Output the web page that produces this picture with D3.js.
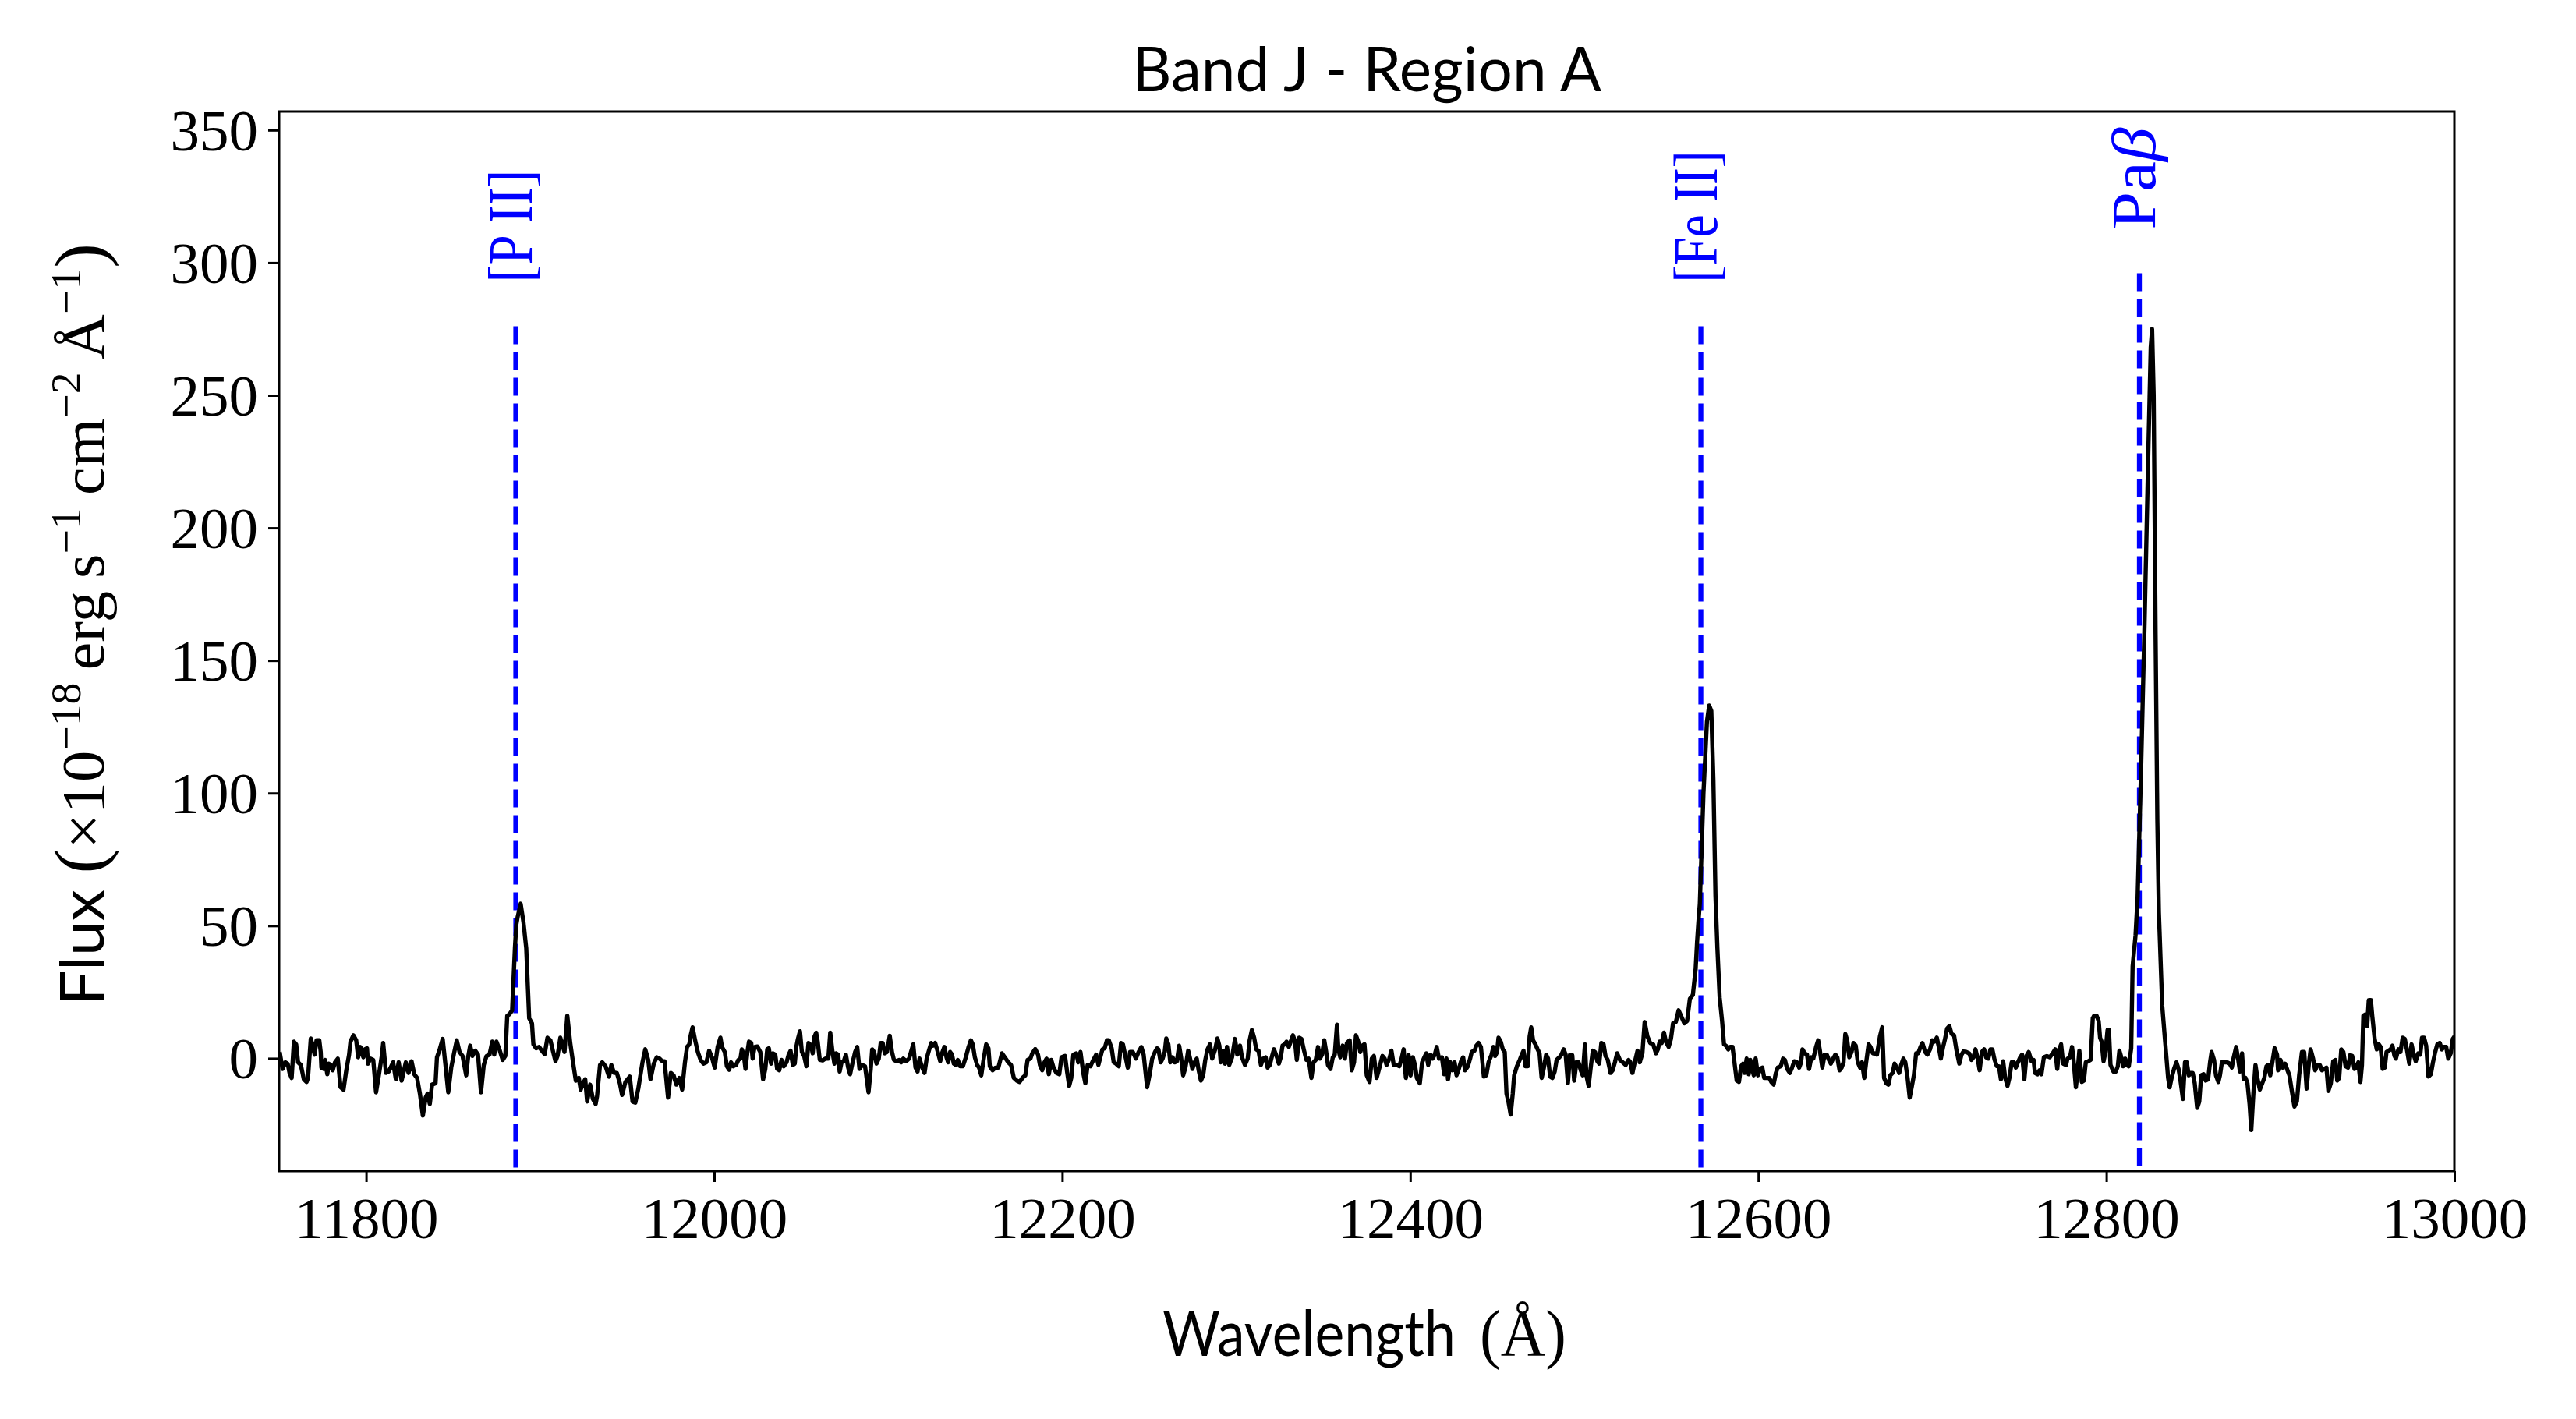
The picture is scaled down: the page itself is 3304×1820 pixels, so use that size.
<!DOCTYPE html>
<html>
<head>
<meta charset="utf-8">
<script src="https://cdn.jsdelivr.net/npm/d3@7"></script>
<style>
  html, body { margin: 0; padding: 0; background: #fff; }
  svg { display: block; }
</style>
</head>
<body>
<svg id="chart" width="3304" height="1820"></svg>
<script>
// ---------------- DATA ----------------
const wavelength = [
  11750.3,11752.0,11753.6,11754.9,11756.0,11757.2,11758.5,11759.8,11760.9,11762.5,
  11764.2,11765.8,11766.6,11768.2,11769.5,11770.4,11771.5,11773.1,11773.9,11774.3,
  11775.6,11776.4,11777.7,11778.5,11779.6,11780.8,11782.1,11783.7,11785.3,11787.0,
  11788.6,11790.2,11791.0,11792.7,11794.3,11795.4,11796.7,11798.4,11799.2,11800.5,
  11801.1,11802.4,11804.1,11805.7,11807.3,11809.0,11809.8,11811.4,11813.0,11815.5,
  11817.1,11818.7,11820.4,11822.8,11824.4,11826.1,11827.7,11829.3,11830.9,11832.6,
  11834.2,11835.3,11836.6,11837.9,11839.9,11840.7,11842.3,11844.0,11845.6,11847.2,
  11848.9,11850.5,11852.1,11853.7,11855.4,11857.5,11858.6,11859.8,11861.1,11862.7,
  11864.3,11866.0,11867.6,11869.2,11870.9,11872.5,11873.6,11874.9,11876.6,11878.5,
  11880.0,11881.1,11882.3,11883.9,11885.5,11886.3,11887.1,11888.8,11890.4,11892.0,
  11893.7,11895.3,11896.1,11897.7,11899.4,11901.0,11902.6,11904.2,11905.9,11907.5,
  11908.8,11910.0,11911.6,11912.7,11914.0,11915.6,11917.3,11918.9,11920.5,11922.2,
  11923.3,11924.6,11925.9,11927.0,11928.7,11930.3,11931.9,11932.7,11934.4,11935.7,
  11937.6,11939.6,11940.9,11942.5,11944.1,11945.8,11947.1,11949.0,11951.5,11953.1,
  11954.7,11956.4,11958.8,11960.4,11962.1,11963.4,11965.3,11967.0,11968.6,11970.2,
  11971.5,11972.7,11973.5,11975.1,11976.7,11978.3,11980.0,11981.6,11983.2,11984.4,
  11985.7,11986.5,11987.6,11988.9,11990.6,11992.2,11993.8,11995.5,11997.1,11998.7,
  12000.3,12002.0,12003.6,
  12004.5,12006.1,12007.3,12008.6,12009.7,12011.0,12012.6,12013.9,12015.1,12015.9,
  12017.0,12018.0,12019.1,12020.0,12021.3,12022.1,12023.2,12024.8,12026.5,12028.1,
  12029.4,12030.5,12031.4,12032.7,12033.8,12035.1,12036.2,12037.4,12038.7,12040.0,
  12041.6,12042.8,12043.9,12045.2,12046.3,12047.2,12048.1,12049.3,12050.4,12051.7,
  12053.0,12054.2,12055.8,12056.6,12057.4,12058.6,12059.5,12060.7,12062.3,12063.9,
  12065.6,12066.7,12068.0,12069.1,12070.1,12071.3,12072.1,12073.2,12074.5,12075.7,
  12077.0,12078.1,12079.4,12081.0,12082.2,12083.5,12085.1,12086.7,12088.7,12090.0,
  12090.8,12091.9,12093.3,12094.6,12095.7,12096.8,12098.1,12099.3,12100.9,12102.2,
  12103.3,12104.7,12106.3,12107.4,12108.7,12110.4,12112.0,12113.1,12114.4,12115.7,
  12116.9,12118.0,12119.3,12120.9,12122.1,12123.4,12124.7,12125.8,12127.0,12128.3,
  12129.9,12131.2,12132.3,12133.5,12134.5,12135.6,12136.7,12137.7,12138.9,12140.0,
  12141.3,12142.9,12144.6,12146.2,12147.5,12148.6,12149.8,12151.1,12152.2,12153.5,
  12154.8,12156.3,12157.6,12158.4,12160.0,12161.7,12163.3,12165.4,12167.0,12169.0,
  12170.6,12172.2,12173.9,12175.5,12177.1,12178.8,12180.1,12181.7,12182.8,12184.5,
  12186.1,12187.2,12188.5,12189.8,12191.0,12192.3,12193.7,12195.0,12196.7,12198.3,
  12199.6,12201.6,12202.9,12204.0,12205.2,12206.4,12208.1,12209.2,12210.5,12212.1,
  12213.3,12214.6,12216.2,12217.9,12219.5,12220.8,12221.9,12223.1,12224.4,12225.7,
  12226.8,12228.4,12229.6,12230.9,12232.5,12233.8,12234.9,12236.6,12237.7,12239.0,
  12240.6,12242.3,12243.9,12245.5,12246.8,12248.8,12250.4,12251.7,12253.3,12254.5,
  12255.3,12256.6,12257.7,12258.9,12259.8,12261.0,12262.1,12263.4,12264.7,12265.9,
  12267.2,12268.3,12269.5,12270.8,12272.4,12274.0,12274.8,12276.1,12277.3,12278.4,
  12279.7,12281.0,12282.2,12283.5,12284.9,12286.2,12287.9,12289.2,12290.3,12291.1,
  12292.4,12293.6,12294.7,12296.0,12297.6,12299.3,12300.6,12302.2,12303.3,12305.0,
  12306.6,12307.7,12309.0,12310.3,12311.5,12312.8,12314.2,12315.5,12316.9,12318.0,
  12319.3,12320.4,12321.7,12323.4,12324.5,12325.6,12326.6,12327.8,12328.9,12330.2,
  12331.3,12332.6,12333.8,12334.8,12336.2,12337.5,12338.8,12340.3,12341.6,12343.2,
  12344.4,12345.7,12347.0,12348.1,12349.3,12350.6,12351.7,12352.7,12354.2,12355.5,
  12356.6,12357.9,12358.7,12359.8,12361.2,12362.5,12363.6,12365.2,12366.4,12367.7,
  12368.8,12370.1,12371.3,12372.5,12373.7,12375.0,12376.6,12377.9,12379.1,12380.7,
  12382.3,12384.0,12385.3,12386.4,12388.0,12389.2,12390.5,12392.1,12393.7,12395.0,
  12396.2,12397.5,12399.0,12400.2,12401.5,12402.7,12403.8,12405.5,12406.8,12408.1,
  12409.2,12410.3,12411.6,12412.8,12414.1,12415.2,12416.5,12418.2,12419.5,12420.8,
  12421.7,12423.0,12424.3,12425.5,12426.6,12427.9,12429.2,12430.4,12431.5,12433.1,
  12434.4,12435.3,12436.9,12438.0,12439.3,12440.6,12442.3,12443.7,12445.0,12446.7,
  12447.8,12448.8,12449.9,12450.7,12452.0,12453.2,12454.3,12455.3,12456.4,12457.7,
  12458.9,12459.7,12461.3,12462.9,12464.1,12465.1,12466.2,12467.5,12468.6,12469.5,
  12470.6,12471.9,12473.2,12474.3,12475.5,12476.8,12478.1,12479.2,12480.4,12481.7,
  12483.0,12484.1,12485.7,12486.9,12488.2,12489.3,12490.6,12491.8,12493.1,12494.2,
  12495.5,12496.7,12498.0,12499.1,12500.4,12501.2,12502.5,
  12503.7,12504.9,12506.2,12507.5,12508.6,12509.8,12511.1,12512.2,12513.5,12515.1,
  12516.3,12517.6,12518.9,12520.5,12522.1,12523.8,12525.4,12526.5,12527.7,12529.0,
  12530.6,12531.9,12533.4,12534.7,12536.3,12537.9,12539.6,12541.2,12542.3,12543.3,
  12544.5,12545.8,12546.9,12548.5,12549.8,12551.0,12552.6,12554.2,12555.9,12557.5,
  12559.1,12560.7,12562.4,12564.0,12564.8,12565.6,12566.4,12568.5,12570.5,12571.8,
  12573.0,12574.2,12575.4,12576.5,12577.8,12579.2,12580.3,12581.4,12582.7,12583.9,
  12585.2,12586.3,12587.6,12588.9,12590.1,12591.2,12592.2,12593.3,12594.5,12595.4,
  12596.6,12597.4,12598.5,12599.8,12601.0,12602.3,12603.4,12604.7,12606.3,12607.5,
  12608.8,12610.1,12611.2,12612.9,12614.2,12615.3,12616.6,12618.1,12619.4,12620.7,
  12622.2,12623.5,12624.6,12625.4,12626.7,12628.0,12629.2,12630.5,12631.6,12633.2,
  12634.4,12635.3,12636.8,12638.1,12639.4,12640.6,12641.7,12643.0,12644.3,12645.4,
  12646.7,12647.9,12649.0,12650.0,12651.1,12652.3,12653.6,12654.7,12656.0,12657.2,
  12658.5,12659.6,12660.9,12662.0,12663.4,12664.5,12665.8,12666.9,12668.2,12669.9,
  12671.2,12672.3,12673.6,12674.8,12675.9,12677.2,12678.3,12679.6,12681.0,12682.1,
  12683.4,12684.5,12685.8,12687.0,12688.3,12689.4,12690.7,12691.9,12693.2,12694.3,
  12695.9,12697.2,12698.7,12700.0,12701.3,12702.6,12703.7,12704.9,12706.2,12707.3,
  12708.5,12709.8,12711.1,12712.5,12713.8,12715.5,12716.8,12717.9,12719.5,12721.2,
  12722.5,12723.6,12724.8,12726.1,12727.2,12728.5,12729.8,12730.9,12732.2,12733.4,
  12734.5,12735.8,12737.1,12738.3,12739.4,12740.7,12741.9,12743.2,12744.3,12745.6,
  12746.9,12748.0,12749.2,12750.5,12751.6,12752.9,12754.1,12755.4,
  12757.0,12758.2,12759.0,12760.4,12761.6,12762.7,12764.1,12765.8,12767.5,12769.2,
  12770.6,12771.8,12772.9,12774.0,12775.2,12776.9,12777.7,12779.1,12780.3,12781.1,
  12782.5,12783.3,12784.5,12785.9,12787.1,12788.2,12789.6,12791.0,12792.2,12793.0,
  12794.4,12795.6,12796.4,12797.3,12798.4,12799.5,12800.7,12801.5,12802.4,12804.1,
  12805.4,12806.6,12807.5,12808.6,12809.7,12810.9,12811.7,12812.9,12814.3,12815.1,
  12816.8,12818.0,12820.0,12822.0,12824.0,12825.5,12826.3,12827.2,12828.3,12829.3,
  12830.2,12832.1,12833.8,12835.5,12836.4,12837.5,12838.9,12840.3,12841.5,12842.6,
  12844.0,12845.2,12846.2,12847.4,12848.6,12849.6,12850.8,12852.2,12853.4,12854.5,
  12855.9,12857.1,12858.5,12859.6,12860.5,12861.9,12863.0,12864.4,12865.3,12866.4,
  12867.8,12869.5,12870.9,12872.1,12873.2,12874.6,12875.8,12876.8,12878.0,12878.9,
  12880.0,12881.1,12882.3,12883.3,12884.5,12885.7,12886.8,12888.2,12889.6,12890.8,
  12892.0,12893.0,12894.2,12895.4,12896.7,12898.1,12898.7,12900.1,12901.3,12902.7,
  12903.8,12905.2,12906.6,12908.1,12909.5,12910.8,12912.4,12913.7,12915.1,12916.3,
  12917.4,12918.8,12920.0,12921.4,12922.7,12923.9,12925.3,12926.5,12927.6,12929.0,
  12930.4,12931.6,12932.7,12933.8,12935.0,12936.2,12937.5,12938.9,12940.1,12941.3,
  12942.6,12943.8,12944.8,12946.0,12946.9,12947.7,12949.1,12949.9,12950.8,12952.0,
  12952.8,12954.2,12955.4,12956.6,12957.6,12958.8,12960.0,12961.0,12962.2,12963.4,
  12964.4,12965.6,12966.4,12967.8,12969.0,12970.3,12971.5,12972.7,12974.1,12975.4,
  12976.6,12977.8,12979.2,12980.4,12981.4,12982.6,12983.8,12985.1,12986.5,12987.7,
  12989.0,12990.2,12991.6,12992.8,12994.0,12995.3,12996.5,12997.9,12999.1,13000.1
];

const flux = [
  2.4,-4.0,-1.5,-2.0,-5.5,-7.4,6.3,5.3,-1.5,-2.5,
  -7.9,-8.9,-7.4,7.5,4.3,1.4,6.8,6.8,2.4,-3.5,
  -4.0,-0.6,-6.0,-2.0,-2.5,-4.5,-1.5,-0.1,-10.9,-11.8,
  -4.5,1.4,6.3,8.7,6.8,0.4,4.3,0.4,3.4,3.8,
  -2.0,-0.1,-0.6,-12.8,-6.4,0.9,5.8,-5.5,-5.0,-1.5,
  -7.9,-1.5,-8.4,-1.5,-5.5,-1.1,-6.0,-7.4,-13.3,-21.6,
  -14.8,-13.3,-17.2,-9.9,-9.4,0.4,3.4,7.3,-2.5,-12.8,
  -3.5,1.9,6.8,2.4,0.9,-6.4,0.4,4.8,0.9,2.9,
  1.4,-12.8,-2.5,0.9,1.4,6.3,1.4,6.3,3.4,-0.6,
  0.9,16.1,16.6,18.1,41.6,50.4,53.4,58.3,51.4,41.6,
  15.1,13.2,5.3,3.8,4.3,2.9,1.6,7.8,6.8,2.4,
  -1.1,0.9,7.8,5.3,2.4,16.1,5.8,-1.5,-8.4,-7.4,
  -11.8,-9.4,-7.9,-16.3,-9.9,-15.3,-17.2,-14.3,-2.5,-1.5,
  -3.0,-6.9,-2.5,-5.5,-5.5,-9.4,-13.8,-8.9,-6.9,-16.3,
  -16.7,-11.4,-1.5,3.4,-0.6,-7.9,-2.0,0.4,-0.1,-1.1,
  -1.1,-9.4,-14.8,-5.5,-6.4,-9.9,-7.4,-11.8,-1.5,4.3,
  5.3,8.7,11.7,7.3,2.4,-0.6,-2.0,-1.5,2.9,0.4,
  -3.5,4.3,7.8,
  4.3,2.4,-3.0,-4.3,-1.5,-3.0,-2.5,-0.6,-0.1,3.4,
  1.4,-4.0,2.4,6.3,5.8,-0.1,4.3,4.5,2.4,-7.9,
  -4.0,3.4,3.8,-2.0,1.9,1.4,-4.0,-4.5,-0.6,-3.0,
  -1.5,1.4,2.9,-2.5,-2.0,4.3,7.3,10.2,2.4,0.9,
  -3.0,5.8,4.8,1.9,7.8,9.7,6.3,-0.6,-0.8,-0.1,
  -0.1,9.7,2.4,-2.0,1.9,1.4,-5.0,-1.5,-1.1,1.4,
  -3.5,-6.0,-2.0,2.4,4.3,-4.0,-2.5,-3.0,-12.8,-4.0,
  3.4,2.4,-2.0,-0.1,5.8,5.8,1.9,2.4,8.5,2.4,
  -0.6,-1.1,-0.6,-1.5,-0.1,-1.1,-0.1,2.4,5.3,-3.5,
  -5.0,-0.1,-3.0,-5.5,-0.1,2.9,5.8,4.8,5.8,2.9,
  -1.1,2.4,4.3,0.4,-1.5,2.4,1.4,-2.0,-2.5,-0.6,
  -3.0,-3.0,0.4,4.3,6.8,5.3,0.4,-2.5,-3.5,-6.4,
  -0.6,5.3,3.8,-3.0,-4.5,-3.5,-3.5,1.9,0.4,-1.5,
  -2.5,-7.4,-8.4,-8.9,-7.4,-6.4,-0.6,-0.1,1.9,3.5,
  1.4,-2.5,-4.5,-1.5,-0.1,-6.0,-0.6,-3.5,-5.5,-6.0,
  0.4,0.9,-5.5,-10.4,-7.4,1.4,1.9,-1.5,2.4,-5.5,
  -9.4,-2.5,-3.0,-0.6,1.4,-2.5,0.4,3.4,3.8,6.8,
  6.8,3.8,-1.5,-2.0,-3.0,5.8,5.3,-0.1,-3.5,2.4,
  2.4,-0.1,2.4,4.3,1.4,-10.9,-5.5,-0.1,2.4,3.8,
  3.4,-1.5,-0.1,2.4,7.5,5.3,-1.5,0.4,-1.5,-1.1,
  4.8,0.4,-6.4,-3.5,2.9,-1.5,-4.0,-1.5,-0.1,-4.5,
  -8.4,-6.4,-0.6,3.4,5.3,-0.1,3.4,7.5,4.8,-1.5,
  2.9,-2.0,4.3,-2.5,0.4,7.3,1.4,4.8,0.4,-2.5,
  -0.1,6.8,10.7,7.8,3.4,2.9,-2.5,-0.1,0.4,-3.5,
  -2.5,0.4,3.4,0.4,-2.0,0.4,4.8,5.3,6.3,4.3,
  6.3,8.7,6.3,-0.6,7.8,7.3,3.4,-0.6,-0.1,-7.4,
  -1.5,-0.6,4.3,-0.1,1.4,6.8,2.4,-2.5,-4.0,0.4,
  1.4,12.7,3.4,0.4,4.8,-0.1,5.8,6.8,-4.5,-1.5,
  8.7,6.3,2.4,4.8,5.3,-6.4,-8.9,-0.1,0.9,-7.4,
  -3.5,0.9,-0.1,-2.5,-0.1,2.9,-2.5,-2.5,-3.0,-0.1,
  3.4,-7.4,1.4,-6.4,0.4,-2.5,-7.4,-9.4,-1.5,0.4,
  1.9,-2.5,1.4,-0.1,1.4,4.3,-0.1,0.4,-6.0,-0.1,
  -7.9,-1.5,-4.5,-1.5,-6.4,-4.0,-1.1,0.4,-4.5,-3.0,
  -0.1,2.4,2.9,4.8,5.8,4.3,-6.9,-6.4,-1.5,1.4,
  4.3,0.9,2.4,7.8,6.3,3.4,2.4,-13.3,-16.3,-21.2,
  -13.3,-6.4,-3.0,-0.6,1.4,2.9,-3.0,-3.0,8.3,11.7,
  6.8,5.3,3.4,1.9,-7.4,-3.5,1.4,-0.1,-6.9,-7.4,
  -5.0,-0.6,0.4,1.4,3.4,1.4,-9.4,1.4,1.2,-8.4,
  -1.5,-1.5,-4.5,-6.4,5.3,-6.4,-10.4,
  -3.5,2.9,2.4,-1.1,-2.0,5.8,5.3,0.9,-0.6,-5.5,
  -4.5,-1.5,1.9,-0.6,-1.5,-2.5,-0.6,-1.5,-5.5,-1.5,
  2.9,-1.5,1.9,13.7,8.3,5.8,5.3,1.9,3.4,6.3,
  5.8,9.7,6.3,4.3,7.3,13.2,13.7,18.1,15.6,13.2,
  14.1,22.5,23.9,33.7,43.6,51.4,58.3,100,127,133,
  131,105,61.2,41.6,23.0,14.1,5.3,4.8,3.4,4.3,
  4.3,-1.5,-8.4,-8.9,-3.0,-2.0,-5.5,-0.1,-6.0,-0.6,
  -4.0,-6.4,-0.1,-6.4,-4.0,-3.5,-7.4,-7.4,-7.4,-8.9,
  -9.9,-5.5,-3.5,-3.0,-0.1,-0.6,-4.0,-5.5,-3.5,-1.1,
  -1.5,-3.5,-1.5,3.4,1.9,1.4,-4.0,0.4,-0.1,4.3,
  6.8,3.4,-3.5,1.4,1.4,-0.6,-2.0,-0.1,1.4,0.4,
  -4.5,-3.5,-1.5,9.2,6.8,0.4,2.4,5.8,4.8,-1.5,
  -3.5,-1.5,-7.4,-1.5,5.3,4.3,1.9,1.9,1.4,8.3,
  11.7,-7.4,-9.4,-9.9,-6.4,-5.5,-2.0,-3.5,-5.5,-2.5,
  -0.1,-1.5,-7.4,-14.8,-10.4,-6.4,1.9,1.9,4.3,5.8,
  2.4,1.4,3.4,6.8,6.3,7.8,4.3,-0.1,4.3,7.3,
  11.2,12.2,9.2,8.7,3.4,-2.0,1.4,2.6,2.4,1.9,
  -0.6,0.4,3.4,-0.1,-4.5,2.4,3.4,0.4,-0.1,3.4,
  3.4,-0.6,-3.0,-3.0,-7.9,-1.1,-7.4,-10.4,-7.4,-1.5,
  -1.5,-3.5,-1.5,0.4,1.4,-7.9,0.9,2.4,
  -1.1,-0.6,-5.5,-6.0,-4.5,-6.0,0.4,0.9,0.4,1.9,
  3.4,-4.0,3.4,5.3,-2.0,-2.5,-0.1,0.4,4.3,-0.1,
  -10.9,-6.4,2.9,-8.9,-8.4,-1.5,-1.1,-0.6,15.1,16.1,
  16.1,14.1,7.8,6.3,-1.1,2.4,10.7,10.7,-2.5,-5.0,
  -5.0,-3.0,2.9,0.4,-3.0,-0.1,-2.5,-3.0,3.8,34.7,
  46.5,61.2,110,165,225,268,275,250,160,90,
  55,20.0,6.3,-7.4,-10.9,-7.4,-4.0,-1.5,-4.0,-8.4,
  -15.3,-1.5,-1.5,-6.4,-5.5,-5.5,-9.4,-18.7,-16.3,-6.4,
  -6.0,-8.4,-7.9,-1.5,2.4,-0.6,-6.4,-8.9,-6.4,-1.5,
  -1.5,-1.5,-2.0,-3.5,0.4,4.3,-0.6,-5.0,1.9,-7.9,
  -7.4,-9.4,-17.2,-27.0,-13.3,-2.5,-7.4,-11.8,-9.4,-7.4,
  -3.0,-2.5,-6.4,-1.5,3.8,1.4,-4.5,-0.6,-3.5,-2.0,
  -4.0,-6.4,-12.3,-18.2,-16.3,-6.4,2.4,2.4,-11.4,-2.5,
  3.4,-0.1,-4.5,-2.5,-2.5,-4.5,-4.0,-3.5,-12.3,-9.4,
  -1.1,-0.6,-8.4,-7.4,3.4,2.4,-3.0,-3.5,1.2,0.9,
  -4.0,-3.5,-1.5,-8.9,-2.5,16.1,16.6,12.2,22.0,22.0,
  16.1,7.3,3.4,5.3,4.3,-4.0,-3.5,2.4,2.9,3.4,
  4.8,0.9,-0.1,3.4,2.4,7.8,7.3,3.4,-2.0,5.3,
  1.4,-1.1,1.9,1.4,7.8,7.8,4.8,-6.9,-6.0,-1.5,
  2.4,5.3,5.8,3.4,4.3,4.3,-0.1,1.9,7.3,8.3
];

// emission lines
const lineNames = ["[P II]", "[Fe II]", "Pa\u03b2"];
const lineWaves = [11886, 12567, 12819];
const lineTops  = [276, 276, 296];

// axes
const xDomain = [11750, 13000];
const yDomain = [-42.5, 357];
const xTicks = [11800, 12000, 12200, 12400, 12600, 12800, 13000];
const yTicks = [0, 50, 100, 150, 200, 250, 300, 350];

const titleText = "Band J - Region A";
const xLabelWord = "Wavelength";
const xLabelUnit = "(\u00c5)";

// ---------------- LAYOUT ----------------
const W = 3304, H = 1820;
const L = 358, R = 3148, T = 143, B = 1502;
const SERIF = "'Liberation Serif', 'Times New Roman', serif";
const SANS  = "Lato, 'Open Sans', 'DejaVu Sans', sans-serif";

const svg = d3.select("#chart");
svg.append("rect").attr("width", W).attr("height", H).attr("fill", "#fff");

const x = d3.scaleLinear().domain(xDomain).range([L, R]);
const y = d3.scaleLinear().domain(yDomain).range([B, T]);

// place a text at (px,py) with rotation, horizontally scaled to a target length
function fit(sel, px, py, rot, target) {
  const natural = sel.node().getComputedTextLength();
  const s = target / natural;
  sel.attr("x", 0).attr("y", 0)
     .attr("transform", `translate(${px},${py}) rotate(${rot}) scale(${s},1)`);
}

svg.append("defs").append("clipPath").attr("id", "plotclip")
  .append("rect").attr("x", L).attr("y", T).attr("width", R - L).attr("height", B - T);

const n = Math.min(wavelength.length, flux.length);
const pts = d3.range(n).map(i => [wavelength[i], flux[i]]);

const plot = svg.append("g").attr("clip-path", "url(#plotclip)");

// dashed emission lines
plot.selectAll("line.em").data(lineWaves).enter().append("line")
  .attr("class", "em")
  .attr("x1", d => x(d)).attr("x2", d => x(d))
  .attr("y1", (d, i) => y(lineTops[i])).attr("y2", y(yDomain[0]))
  .attr("stroke", "#0000ff").attr("stroke-width", 6.3)
  .attr("stroke-dasharray", "23,10");

// spectrum
plot.append("path").datum(pts)
  .attr("d", d3.line().x(d => x(d[0])).y(d => y(d[1])))
  .attr("fill", "none").attr("stroke", "#000").attr("stroke-width", 5.4)
  .attr("stroke-linejoin", "round").attr("stroke-linecap", "butt");

// line labels
const labLen = [145, 169, 131];
lineNames.forEach((name, i) => {
  const t = svg.append("text")
    .attr("text-anchor", "start")
    .attr("font-family", SERIF).attr("font-size", 80).attr("fill", "#0000ff");
  if (name.includes("\u03b2")) {
    const parts = name.split("\u03b2");
    t.append("tspan").text(parts[0]);
    t.append("tspan").attr("font-style", "italic").text("\u03b2");
  } else {
    t.text(name);
  }
  fit(t, x(lineWaves[i]) + 20, y(lineTops[i] + 16.5), -90, labLen[i]);
});

// axes
const xAxis = d3.axisBottom(x).tickValues(xTicks).tickSize(14).tickFormat(d3.format("d"));
const gx = svg.append("g").attr("transform", `translate(0,${B})`).call(xAxis);
gx.select(".domain").remove();
gx.selectAll(".tick line").attr("stroke", "#000").attr("stroke-width", 3);
gx.selectAll(".tick text").attr("y", 86).attr("dy", 0)
  .attr("font-family", SERIF).attr("font-size", 75).attr("fill", "#000");

const yAxis = d3.axisLeft(y).tickValues(yTicks).tickSize(14).tickFormat(d3.format("d"));
const gy = svg.append("g").attr("transform", `translate(${L},0)`).call(yAxis);
gy.select(".domain").remove();
gy.selectAll(".tick line").attr("stroke", "#000").attr("stroke-width", 3);
gy.selectAll(".tick text").attr("x", -27).attr("dy", "0.34em")
  .attr("font-family", SERIF).attr("font-size", 75).attr("fill", "#000");

// frame
svg.append("rect").attr("x", L).attr("y", T).attr("width", R - L).attr("height", B - T)
  .attr("fill", "none").attr("stroke", "#000").attr("stroke-width", 3);

// title
const tt = svg.append("text").attr("text-anchor", "middle")
  .attr("font-family", SANS).attr("font-size", 80).attr("fill", "#000").text(titleText);
fit(tt, (L + R) / 2, 117, 0, 602);

// x label (two separate runs: sans word, serif unit)
const xw = svg.append("text").attr("text-anchor", "start")
  .attr("font-family", SANS).attr("font-size", 82).attr("fill", "#000").text(xLabelWord);
fit(xw, 1491, 1739, 0, 376);
const xu = svg.append("text").attr("text-anchor", "start")
  .attr("font-family", SERIF).attr("font-size", 84).attr("fill", "#000").text(xLabelUnit);
fit(xu, 1898, 1739, 0, 111);

// y label
const yl = svg.append("text")
  .attr("text-anchor", "middle").attr("font-size", 78).attr("fill", "#000");
const sup = 30, supSize = 54;
yl.append("tspan").attr("font-family", SANS).text("Flux ");
yl.append("tspan").attr("font-family", SERIF).attr("font-size", 92).text("(");
yl.append("tspan").attr("font-family", SERIF).text("\u00d710");
yl.append("tspan").attr("font-family", SERIF).attr("font-size", supSize).attr("dy", -sup).text("\u221218");
yl.append("tspan").attr("font-family", SERIF).attr("dy", sup).text("\u2009erg\u2009s");
yl.append("tspan").attr("font-family", SERIF).attr("font-size", supSize).attr("dy", -sup).text("\u22121");
yl.append("tspan").attr("font-family", SERIF).attr("dy", sup).text("\u2009cm");
yl.append("tspan").attr("font-family", SERIF).attr("font-size", supSize).attr("dy", -sup).text("\u22122");
yl.append("tspan").attr("font-family", SERIF).attr("dy", sup).text("\u2009\u00c5");
yl.append("tspan").attr("font-family", SERIF).attr("font-size", supSize).attr("dy", -sup).text("\u22121");
yl.append("tspan").attr("font-family", SERIF).attr("font-size", 92).attr("dy", sup).text(")");
fit(yl, 133, 801, -90, 978);
</script>
</body>
</html>
